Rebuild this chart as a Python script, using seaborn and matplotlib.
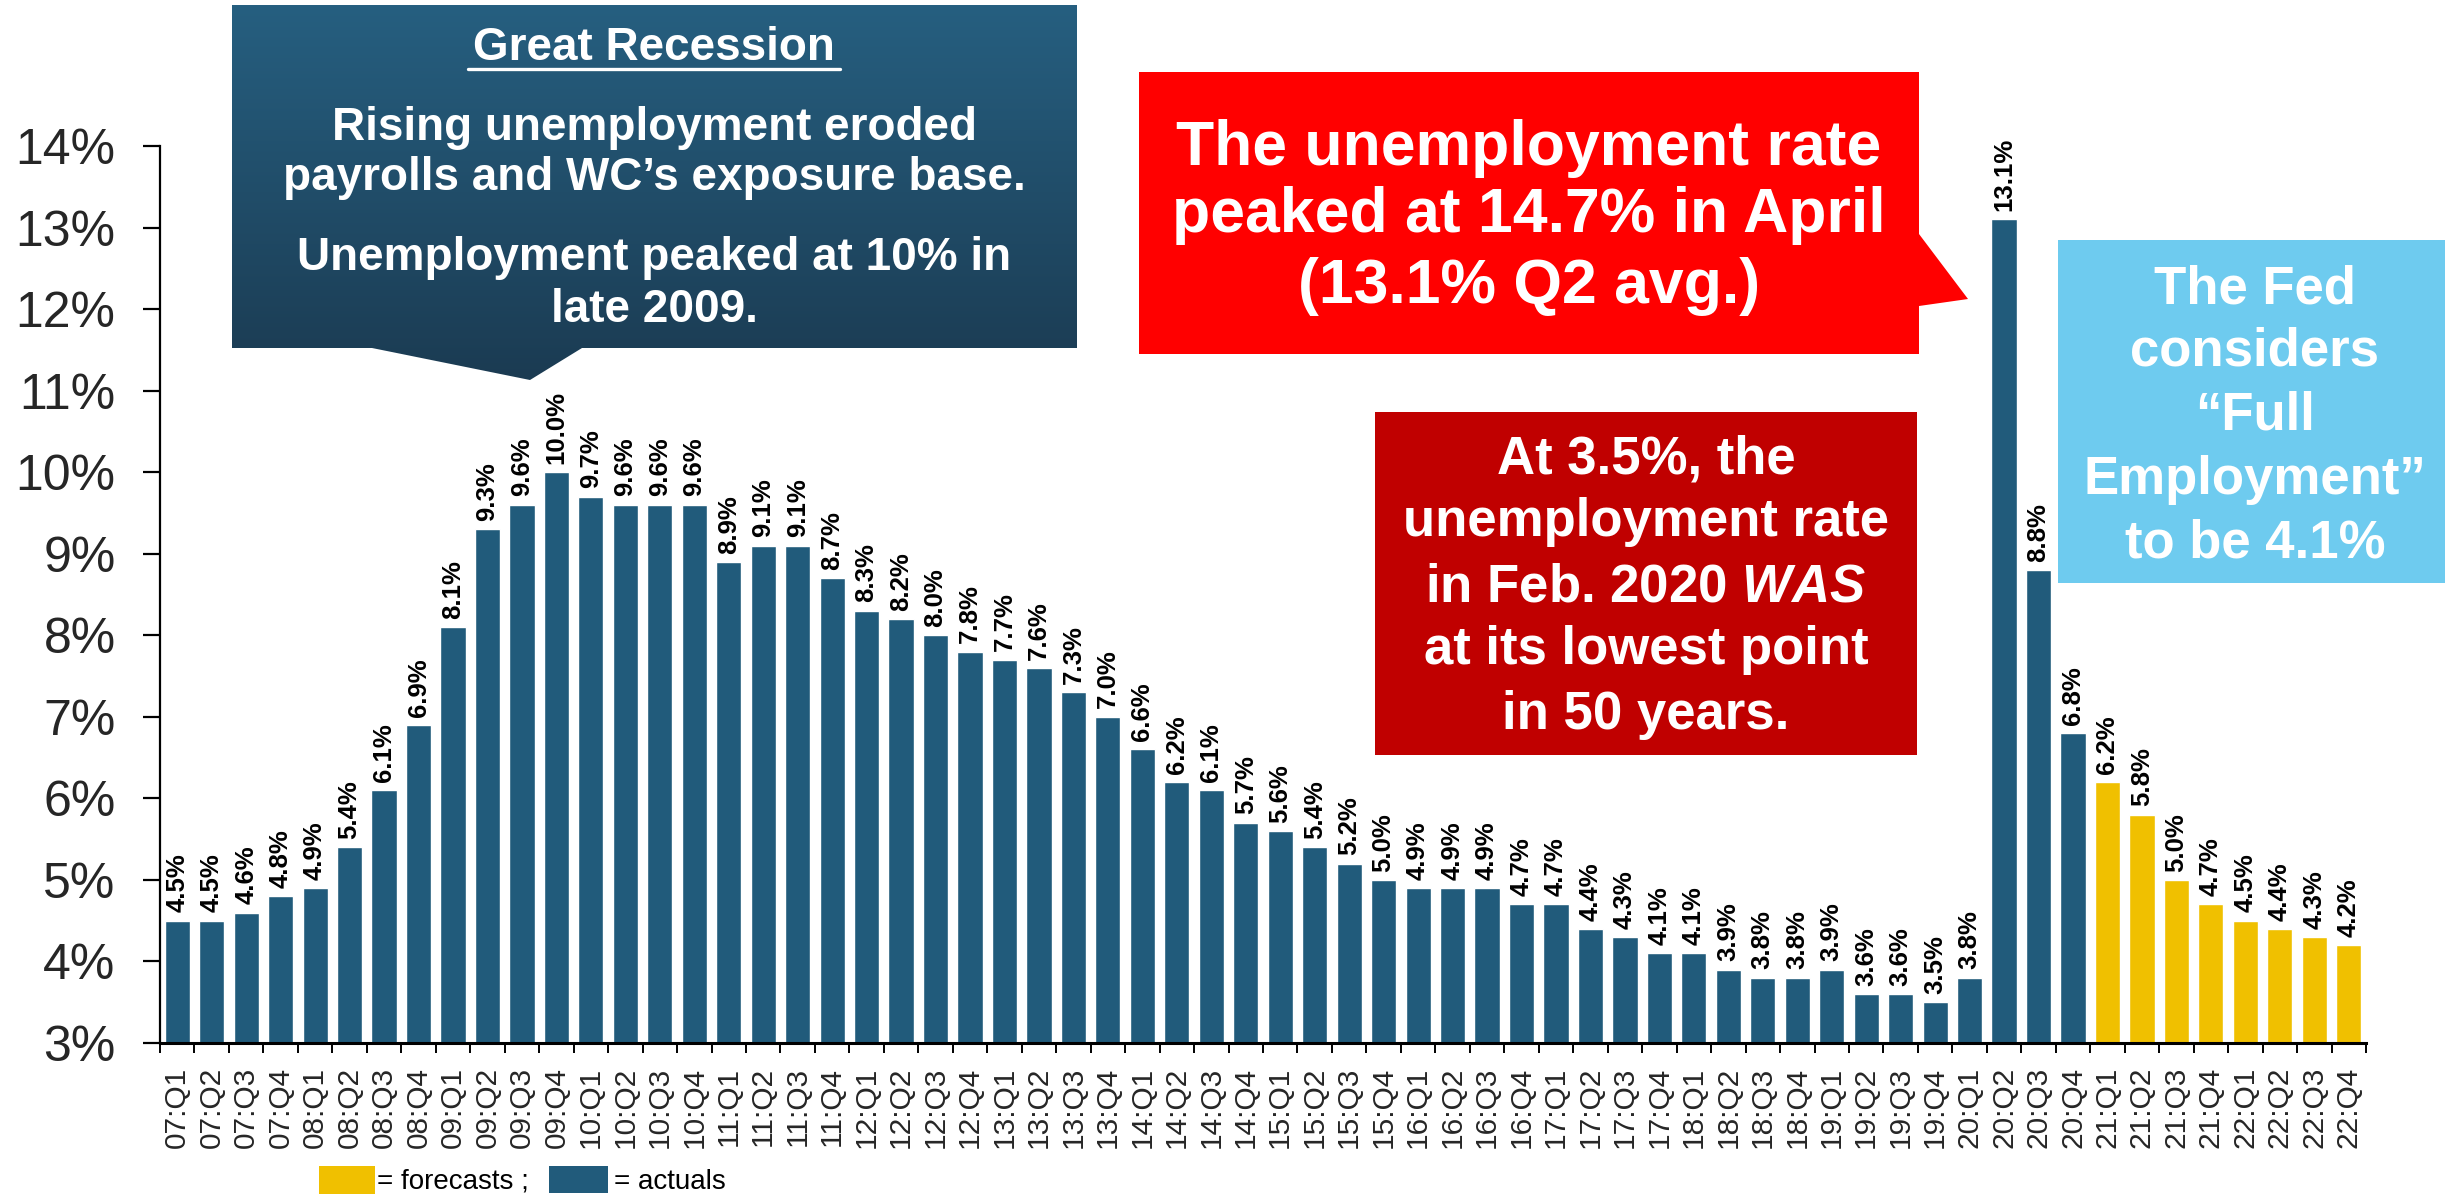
import numpy as np
import pandas as pd
import matplotlib
matplotlib.use("Agg")
import matplotlib.pyplot as plt
import seaborn as sns
from matplotlib import font_manager
from matplotlib.patches import Polygon, Rectangle
from matplotlib.colors import LinearSegmentedColormap

# ---------------- data ----------------
quarters = [
    "07:Q1", "07:Q2", "07:Q3", "07:Q4", "08:Q1", "08:Q2", "08:Q3", "08:Q4",
    "09:Q1", "09:Q2", "09:Q3", "09:Q4", "10:Q1", "10:Q2", "10:Q3", "10:Q4",
    "11:Q1", "11:Q2", "11:Q3", "11:Q4", "12:Q1", "12:Q2", "12:Q3", "12:Q4",
    "13:Q1", "13:Q2", "13:Q3", "13:Q4", "14:Q1", "14:Q2", "14:Q3", "14:Q4",
    "15:Q1", "15:Q2", "15:Q3", "15:Q4", "16:Q1", "16:Q2", "16:Q3", "16:Q4",
    "17:Q1", "17:Q2", "17:Q3", "17:Q4", "18:Q1", "18:Q2", "18:Q3", "18:Q4",
    "19:Q1", "19:Q2", "19:Q3", "19:Q4", "20:Q1", "20:Q2", "20:Q3", "20:Q4",
    "21:Q1", "21:Q2", "21:Q3", "21:Q4", "22:Q1", "22:Q2", "22:Q3", "22:Q4",
]
actual_rates = [
    4.5, 4.5, 4.6, 4.8, 4.9, 5.4, 6.1, 6.9,
    8.1, 9.3, 9.6, 10.0, 9.7, 9.6, 9.6, 9.6,
    8.9, 9.1, 9.1, 8.7, 8.3, 8.2, 8.0, 7.8,
    7.7, 7.6, 7.3, 7.0, 6.6, 6.2, 6.1, 5.7,
    5.6, 5.4, 5.2, 5.0, 4.9, 4.9, 4.9, 4.7,
    4.7, 4.4, 4.3, 4.1, 4.1, 3.9, 3.8, 3.8,
    3.9, 3.6, 3.6, 3.5, 3.8, 13.1, 8.8, 6.8,
]
forecast_rates = [6.2, 5.8, 5.0, 4.7, 4.5, 4.4, 4.3, 4.2]
y_ticks = [3, 4, 5, 6, 7, 8, 9, 10, 11, 12, 13, 14]
y_tick_labels = [f"{t}%" for t in y_ticks]

kinds = ["actual"] * len(actual_rates) + ["forecast"] * len(forecast_rates)
df = pd.DataFrame({"quarter": quarters,
                   "rate": actual_rates + forecast_rates,
                   "kind": kinds})

BLUE = "#215b7b"
GOLD = "#f0c000"

# ---------------- style ----------------
sns.set_theme(style="white")
plt.rcParams["font.family"] = ["Liberation Sans", "DejaVu Sans"]
plt.rcParams["mathtext.fontset"] = "custom"
plt.rcParams["mathtext.it"] = "Liberation Sans:italic:bold"
plt.rcParams["mathtext.rm"] = "Liberation Sans:bold"

installed = {f.name for f in font_manager.fontManager.ttflist}
if "Liberation Sans Narrow" in installed:
    LABEL_FAMILY, LABEL_SIZE = ["Liberation Sans Narrow", "Liberation Sans"], 22
else:
    LABEL_FAMILY, LABEL_SIZE = ["Liberation Sans", "DejaVu Sans"], 18.5

W, H = 2445, 1194
fig = plt.figure(figsize=(W / 100, H / 100), dpi=100)
fig.patch.set_facecolor("white")

ax = fig.add_axes([160 / W, 1 - 1043 / H, (2366 - 160) / W, (1043 - 146) / H])
sns.barplot(data=df, x="quarter", y="rate", hue="kind", order=quarters,
            palette={"actual": BLUE, "forecast": GOLD}, dodge=False,
            width=0.73, saturation=1, legend=False, ax=ax)

ax.set_ylim(3, 14)
ax.set_xlim(-0.5, len(quarters) - 0.5)
ax.set_xlabel("")
ax.set_ylabel("")
ax.set_facecolor("white")
ax.grid(False)
for s in ["top", "right"]:
    ax.spines[s].set_visible(False)
ax.spines["left"].set_linewidth(1.6)
ax.spines["left"].set_color("black")
ax.spines["bottom"].set_linewidth(2.2)
ax.spines["bottom"].set_color("black")

ax.set_yticks(y_ticks)
ax.set_yticklabels(y_tick_labels, fontsize=36)
ax.tick_params(axis="y", which="major", direction="out", length=12, width=1.6,
               color="black", pad=20, left=True)

ax.set_xticks(range(len(quarters)))
ax.set_xticklabels(quarters, rotation=90, fontsize=21.5)
ax.set_xticks(np.arange(-0.5, len(quarters), 1), minor=True)
ax.tick_params(axis="x", which="major", length=0, pad=17, bottom=True)
ax.tick_params(axis="x", which="minor", direction="out", length=7, width=1.4,
               color="black", bottom=True)

# data labels
for i, v in enumerate(df["rate"]):
    ax.annotate(f"{v:.1f}%", xy=(i, v), xytext=(0, 6), textcoords="offset points",
                rotation=90, ha="center", va="bottom", fontsize=LABEL_SIZE,
                family=LABEL_FAMILY, fontweight="bold", color="black",
                annotation_clip=False)

# ---------------- overlay (callouts, legend) ----------------
ov = fig.add_axes([0, 0, 1, 1], zorder=10)
ov.set_xlim(0, W)
ov.set_ylim(H, 0)
ov.axis("off")
ov.patch.set_alpha(0)

# Great Recession box with gradient
gr_poly = [(232, 5), (1077, 5), (1077, 348), (582, 348), (530, 380), (372, 348), (232, 348)]
clip = Polygon(gr_poly, closed=True, facecolor="none", edgecolor="none", transform=ov.transData)
ov.add_patch(clip)
cmap = LinearSegmentedColormap.from_list("gr", ["#265f80", "#1b3b52"])
grad = np.linspace(0, 1, 256).reshape(-1, 1)
im = ov.imshow(grad, extent=(232, 1077, 380, 5), cmap=cmap, aspect="auto", zorder=1)
im.set_clip_path(clip)

gx = 654
ov.text(gx, 60, "Great Recession", ha="center", va="baseline", color="white",
        fontsize=33, fontweight="bold", zorder=3)
ov.plot([468, 840], [68.5, 68.5], color="white", lw=2.4, zorder=3)
for txt, yb in [("Rising unemployment eroded", 140),
                ("payrolls and WC\u2019s exposure base.", 190),
                ("Unemployment peaked at 10% in", 270),
                ("late 2009.", 322)]:
    ov.text(gx, yb, txt, ha="center", va="baseline", color="white",
            fontsize=33, fontweight="bold", zorder=3)

# Red box
red_poly = [(1139, 72), (1919, 72), (1919, 234), (1968, 299), (1919, 306), (1919, 354), (1139, 354)]
ov.add_patch(Polygon(red_poly, closed=True, facecolor="#ff0000", edgecolor="none", zorder=2))
for txt, yb in [("The unemployment rate", 165),
                ("peaked at 14.7% in April", 232),
                ("(13.1% Q2 avg.)", 303)]:
    ov.text(1529, yb, txt, ha="center", va="baseline", color="white",
            fontsize=45, fontweight="bold", zorder=3)

# Dark red box
ov.add_patch(Rectangle((1375, 412), 1917 - 1375, 755 - 412, facecolor="#c00000",
                       edgecolor="none", zorder=2))
for txt, yb in [("At 3.5%, the", 473),
                ("unemployment rate", 536),
                (r"in Feb. 2020 $\mathit{WAS}$", 601),
                ("at its lowest point", 664),
                ("in 50 years.", 729)]:
    ov.text(1646, yb, txt, ha="center", va="baseline", color="white",
            fontsize=38, fontweight="bold", zorder=3)

# Light blue box
ov.add_patch(Rectangle((2058, 240), W - 2058, 583 - 240, facecolor="#6ecbef",
                       edgecolor="none", zorder=2))
for txt, yb in [("The Fed", 303),
                ("considers", 366),
                ("\u201cFull", 429),
                ("Employment\u201d", 494),
                ("to be 4.1%", 557)]:
    ov.text(2255, yb, txt, ha="center", va="baseline", color="white",
            fontsize=38, fontweight="bold", zorder=3)

# Legend
ov.add_patch(Rectangle((319, 1166), 56, 30, facecolor=GOLD, edgecolor="none", zorder=2))
ov.text(377, 1189, "= forecasts ;", ha="left", va="baseline", fontsize=20,
        color="black", zorder=3)
ov.add_patch(Rectangle((549, 1166), 59, 27, facecolor=BLUE, edgecolor="none", zorder=2))
ov.text(614, 1189, "= actuals", ha="left", va="baseline", fontsize=20,
        color="black", zorder=3)

fig.savefig("out.png", dpi=100)
